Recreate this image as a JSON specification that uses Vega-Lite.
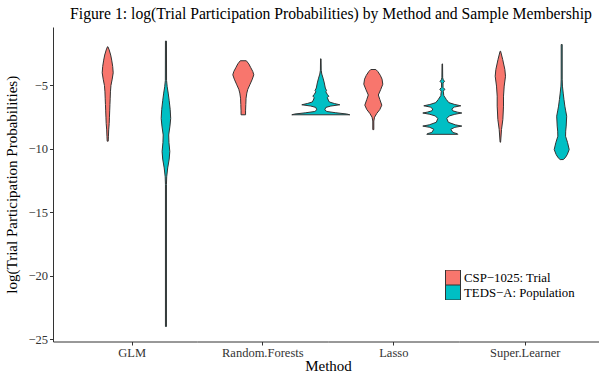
{
  "$schema": "https://vega.github.io/schema/vega-lite/v6.json",
  "padding": {"left": 4, "top": 6, "right": 0, "bottom": 0},
  "background": "white",
  "bounds": "flush",
  "title": {"text": "Figure 1: log(Trial Participation Probabilities) by Method and Sample Membership", "font": "Liberation Serif", "fontSize": 15.7, "fontWeight": "normal", "color": "#000000", "anchor": "middle", "offset": 4, "dx": 29},
  "data": {"values": [
    {"m":"GLM","g":"CSP−1025: Trial","v":-1.95,"w":0.05},{"m":"GLM","g":"CSP−1025: Trial","v":-2.2,"w":0.3},{"m":"GLM","g":"CSP−1025: Trial","v":-2.6,"w":0.6},{"m":"GLM","g":"CSP−1025: Trial","v":-3.0,"w":0.8},{"m":"GLM","g":"CSP−1025: Trial","v":-3.5,"w":1.0},{"m":"GLM","g":"CSP−1025: Trial","v":-4.0,"w":1.1},{"m":"GLM","g":"CSP−1025: Trial","v":-4.5,"w":0.9},{"m":"GLM","g":"CSP−1025: Trial","v":-5.0,"w":0.65},{"m":"GLM","g":"CSP−1025: Trial","v":-5.5,"w":0.55},{"m":"GLM","g":"CSP−1025: Trial","v":-6.0,"w":0.5},{"m":"GLM","g":"CSP−1025: Trial","v":-6.5,"w":0.45},{"m":"GLM","g":"CSP−1025: Trial","v":-7.0,"w":0.4},{"m":"GLM","g":"CSP−1025: Trial","v":-7.5,"w":0.35},{"m":"GLM","g":"CSP−1025: Trial","v":-8.0,"w":0.3},{"m":"GLM","g":"CSP−1025: Trial","v":-8.5,"w":0.2},{"m":"GLM","g":"CSP−1025: Trial","v":-9.0,"w":0.15},{"m":"GLM","g":"CSP−1025: Trial","v":-9.39,"w":0.1},
    {"m":"GLM","g":"TEDS−A: Population","v":-1.5,"w":0.1},{"m":"GLM","g":"TEDS−A: Population","v":-4.6,"w":0.12},{"m":"GLM","g":"TEDS−A: Population","v":-5.1,"w":0.25},{"m":"GLM","g":"TEDS−A: Population","v":-5.6,"w":0.45},{"m":"GLM","g":"TEDS−A: Population","v":-6.2,"w":0.65},{"m":"GLM","g":"TEDS−A: Population","v":-6.9,"w":0.85},{"m":"GLM","g":"TEDS−A: Population","v":-7.6,"w":0.95},{"m":"GLM","g":"TEDS−A: Population","v":-8.2,"w":0.8},{"m":"GLM","g":"TEDS−A: Population","v":-8.9,"w":0.55},{"m":"GLM","g":"TEDS−A: Population","v":-9.5,"w":0.6},{"m":"GLM","g":"TEDS−A: Population","v":-10.2,"w":0.77},{"m":"GLM","g":"TEDS−A: Population","v":-10.8,"w":0.65},{"m":"GLM","g":"TEDS−A: Population","v":-11.5,"w":0.35},{"m":"GLM","g":"TEDS−A: Population","v":-12.2,"w":0.15},{"m":"GLM","g":"TEDS−A: Population","v":-12.8,"w":0.1},{"m":"GLM","g":"TEDS−A: Population","v":-24.0,"w":0.1},
    {"m":"Random.Forests","g":"CSP−1025: Trial","v":-3.05,"w":0.6},{"m":"Random.Forests","g":"CSP−1025: Trial","v":-3.3,"w":1.1},{"m":"Random.Forests","g":"CSP−1025: Trial","v":-3.6,"w":1.5},{"m":"Random.Forests","g":"CSP−1025: Trial","v":-3.9,"w":1.9},{"m":"Random.Forests","g":"CSP−1025: Trial","v":-4.16,"w":2.1},{"m":"Random.Forests","g":"CSP−1025: Trial","v":-4.5,"w":1.8},{"m":"Random.Forests","g":"CSP−1025: Trial","v":-4.95,"w":1.3},{"m":"Random.Forests","g":"CSP−1025: Trial","v":-5.3,"w":0.9},{"m":"Random.Forests","g":"CSP−1025: Trial","v":-5.6,"w":0.7},{"m":"Random.Forests","g":"CSP−1025: Trial","v":-6.0,"w":0.55},{"m":"Random.Forests","g":"CSP−1025: Trial","v":-6.5,"w":0.5},{"m":"Random.Forests","g":"CSP−1025: Trial","v":-7.0,"w":0.45},{"m":"Random.Forests","g":"CSP−1025: Trial","v":-7.31,"w":0.45},
    {"m":"Random.Forests","g":"TEDS−A: Population","v":-2.9,"w":0.05},{"m":"Random.Forests","g":"TEDS−A: Population","v":-3.8,"w":0.08},{"m":"Random.Forests","g":"TEDS−A: Population","v":-4.1,"w":0.2},{"m":"Random.Forests","g":"TEDS−A: Population","v":-4.42,"w":0.45},{"m":"Random.Forests","g":"TEDS−A: Population","v":-4.8,"w":0.7},{"m":"Random.Forests","g":"TEDS−A: Population","v":-5.2,"w":0.9},{"m":"Random.Forests","g":"TEDS−A: Population","v":-5.4,"w":1.15},{"m":"Random.Forests","g":"TEDS−A: Population","v":-5.5,"w":1.0},{"m":"Random.Forests","g":"TEDS−A: Population","v":-5.7,"w":1.3},{"m":"Random.Forests","g":"TEDS−A: Population","v":-5.85,"w":1.6},{"m":"Random.Forests","g":"TEDS−A: Population","v":-5.95,"w":1.3},{"m":"Random.Forests","g":"TEDS−A: Population","v":-6.15,"w":1.5},{"m":"Random.Forests","g":"TEDS−A: Population","v":-6.3,"w":1.7},{"m":"Random.Forests","g":"TEDS−A: Population","v":-6.42,"w":2.7},{"m":"Random.Forests","g":"TEDS−A: Population","v":-6.52,"w":3.8},{"m":"Random.Forests","g":"TEDS−A: Population","v":-6.62,"w":2.0},{"m":"Random.Forests","g":"TEDS−A: Population","v":-6.73,"w":1.0},{"m":"Random.Forests","g":"TEDS−A: Population","v":-6.92,"w":0.8},{"m":"Random.Forests","g":"TEDS−A: Population","v":-7.05,"w":1.2},{"m":"Random.Forests","g":"TEDS−A: Population","v":-7.15,"w":3.0},{"m":"Random.Forests","g":"TEDS−A: Population","v":-7.25,"w":5.2},{"m":"Random.Forests","g":"TEDS−A: Population","v":-7.31,"w":5.8},
    {"m":"Lasso","g":"CSP−1025: Trial","v":-3.74,"w":0.5},{"m":"Lasso","g":"CSP−1025: Trial","v":-3.9,"w":0.9},{"m":"Lasso","g":"CSP−1025: Trial","v":-4.2,"w":1.4},{"m":"Lasso","g":"CSP−1025: Trial","v":-4.5,"w":1.75},{"m":"Lasso","g":"CSP−1025: Trial","v":-4.9,"w":1.9},{"m":"Lasso","g":"CSP−1025: Trial","v":-5.3,"w":1.5},{"m":"Lasso","g":"CSP−1025: Trial","v":-5.75,"w":1.0},{"m":"Lasso","g":"CSP−1025: Trial","v":-6.1,"w":1.3},{"m":"Lasso","g":"CSP−1025: Trial","v":-6.55,"w":1.7},{"m":"Lasso","g":"CSP−1025: Trial","v":-6.9,"w":1.3},{"m":"Lasso","g":"CSP−1025: Trial","v":-7.2,"w":0.7},{"m":"Lasso","g":"CSP−1025: Trial","v":-7.5,"w":0.25},{"m":"Lasso","g":"CSP−1025: Trial","v":-7.8,"w":0.1},{"m":"Lasso","g":"CSP−1025: Trial","v":-8.48,"w":0.1},
    {"m":"Lasso","g":"TEDS−A: Population","v":-3.3,"w":0.05},{"m":"Lasso","g":"TEDS−A: Population","v":-4.4,"w":0.08},{"m":"Lasso","g":"TEDS−A: Population","v":-4.55,"w":0.2},{"m":"Lasso","g":"TEDS−A: Population","v":-4.68,"w":0.45},{"m":"Lasso","g":"TEDS−A: Population","v":-4.8,"w":0.15},{"m":"Lasso","g":"TEDS−A: Population","v":-5.15,"w":0.15},{"m":"Lasso","g":"TEDS−A: Population","v":-5.3,"w":0.5},{"m":"Lasso","g":"TEDS−A: Population","v":-5.45,"w":0.2},{"m":"Lasso","g":"TEDS−A: Population","v":-5.8,"w":0.3},{"m":"Lasso","g":"TEDS−A: Population","v":-6.1,"w":0.8},{"m":"Lasso","g":"TEDS−A: Population","v":-6.35,"w":1.3},{"m":"Lasso","g":"TEDS−A: Population","v":-6.5,"w":2.5},{"m":"Lasso","g":"TEDS−A: Population","v":-6.6,"w":3.7},{"m":"Lasso","g":"TEDS−A: Population","v":-6.7,"w":2.4},{"m":"Lasso","g":"TEDS−A: Population","v":-6.85,"w":1.9},{"m":"Lasso","g":"TEDS−A: Population","v":-7.0,"w":2.1},{"m":"Lasso","g":"TEDS−A: Population","v":-7.1,"w":3.0},{"m":"Lasso","g":"TEDS−A: Population","v":-7.17,"w":3.9},{"m":"Lasso","g":"TEDS−A: Population","v":-7.27,"w":2.5},{"m":"Lasso","g":"TEDS−A: Population","v":-7.4,"w":1.4},{"m":"Lasso","g":"TEDS−A: Population","v":-7.6,"w":0.9},{"m":"Lasso","g":"TEDS−A: Population","v":-7.9,"w":1.2},{"m":"Lasso","g":"TEDS−A: Population","v":-8.1,"w":2.6},{"m":"Lasso","g":"TEDS−A: Population","v":-8.2,"w":3.9},{"m":"Lasso","g":"TEDS−A: Population","v":-8.3,"w":2.5},{"m":"Lasso","g":"TEDS−A: Population","v":-8.45,"w":1.7},{"m":"Lasso","g":"TEDS−A: Population","v":-8.7,"w":2.1},{"m":"Lasso","g":"TEDS−A: Population","v":-8.8,"w":3.0},{"m":"Lasso","g":"TEDS−A: Population","v":-8.85,"w":3.1},
    {"m":"Super.Learner","g":"CSP−1025: Trial","v":-2.3,"w":0.05},{"m":"Super.Learner","g":"CSP−1025: Trial","v":-2.95,"w":0.47},{"m":"Super.Learner","g":"CSP−1025: Trial","v":-3.74,"w":0.9},{"m":"Super.Learner","g":"CSP−1025: Trial","v":-4.27,"w":1.03},{"m":"Super.Learner","g":"CSP−1025: Trial","v":-5.05,"w":0.77},{"m":"Super.Learner","g":"CSP−1025: Trial","v":-5.84,"w":0.63},{"m":"Super.Learner","g":"CSP−1025: Trial","v":-6.63,"w":0.63},{"m":"Super.Learner","g":"CSP−1025: Trial","v":-7.68,"w":0.5},{"m":"Super.Learner","g":"CSP−1025: Trial","v":-8.47,"w":0.23},{"m":"Super.Learner","g":"CSP−1025: Trial","v":-9.47,"w":0.05},
    {"m":"Super.Learner","g":"TEDS−A: Population","v":-1.77,"w":0.1},{"m":"Super.Learner","g":"TEDS−A: Population","v":-4.5,"w":0.1},{"m":"Super.Learner","g":"TEDS−A: Population","v":-5.05,"w":0.15},{"m":"Super.Learner","g":"TEDS−A: Population","v":-5.6,"w":0.3},{"m":"Super.Learner","g":"TEDS−A: Population","v":-6.1,"w":0.45},{"m":"Super.Learner","g":"TEDS−A: Population","v":-6.63,"w":0.63},{"m":"Super.Learner","g":"TEDS−A: Population","v":-7.0,"w":0.8},{"m":"Super.Learner","g":"TEDS−A: Population","v":-7.42,"w":1.0},{"m":"Super.Learner","g":"TEDS−A: Population","v":-7.8,"w":0.95},{"m":"Super.Learner","g":"TEDS−A: Population","v":-8.2,"w":0.9},{"m":"Super.Learner","g":"TEDS−A: Population","v":-8.6,"w":0.8},{"m":"Super.Learner","g":"TEDS−A: Population","v":-9.0,"w":0.77},{"m":"Super.Learner","g":"TEDS−A: Population","v":-9.5,"w":1.17},{"m":"Super.Learner","g":"TEDS−A: Population","v":-10.05,"w":1.5},{"m":"Super.Learner","g":"TEDS−A: Population","v":-10.45,"w":1.1},{"m":"Super.Learner","g":"TEDS−A: Population","v":-10.7,"w":0.7},{"m":"Super.Learner","g":"TEDS−A: Population","v":-10.84,"w":0.3}
  ]},
  "spacing": 0,
  "hconcat": [
    {
      "width": 144, "height": 314.5,
      "transform": [{"filter": {"field": "m", "equal": "GLM"}}],
      "layer": [
        {"transform": [{"filter": {"field": "g", "equal": "CSP−1025: Trial"}}],
         "mark": {"type": "area", "orient": "horizontal", "stroke": "#333333", "strokeWidth": 1, "strokeJoin": "round", "opacity": 1},
         "encoding": {
           "y": {"field": "v", "type": "quantitative", "scale": {"domain": [-25.18, -0.39], "nice": false, "zero": false}, "axis": {"values": [-25, -20, -15, -10, -5], "title": "log(Trial Participation Probabilities)", "titlePadding": 8, "labelPadding": 2}},
           "x": {"field": "w", "type": "quantitative", "stack": "center", "scale": {"domain": [-4.92, 9.48], "nice": false, "zero": false}, "axis": {"values": [2.95], "labelExpr": "'GLM'", "title": null}},
           "color": {"field": "g", "type": "nominal", "scale": {"domain": ["CSP−1025: Trial", "TEDS−A: Population"], "range": ["#F8766D", "#00BFC4"]}, "legend": {"orient": "none", "legendX": 392, "legendY": 243, "title": null, "rowPadding": 0, "clipHeight": 15}}
         }},
        {"transform": [{"filter": {"field": "g", "equal": "TEDS−A: Population"}}],
         "mark": {"type": "area", "orient": "horizontal", "stroke": "#333333", "strokeWidth": 1, "strokeJoin": "round", "opacity": 1},
         "encoding": {
           "y": {"field": "v", "type": "quantitative", "scale": {"domain": [-25.18, -0.39], "nice": false, "zero": false}},
           "x": {"field": "w", "type": "quantitative", "stack": "center", "scale": {"domain": [-10.82, 3.58], "nice": false, "zero": false}, "axis": null},
           "color": {"field": "g", "type": "nominal", "scale": {"domain": ["CSP−1025: Trial", "TEDS−A: Population"], "range": ["#F8766D", "#00BFC4"]}, "legend": {"orient": "none", "legendX": 392, "legendY": 243, "title": null, "rowPadding": 0, "clipHeight": 15}}
         }}
      ],
      "resolve": {"scale": {"x": "independent"}}
    },
    {
      "width": 131, "height": 314.5,
      "transform": [{"filter": {"field": "m", "equal": "Random.Forests"}}],
      "layer": [
        {"transform": [{"filter": {"field": "g", "equal": "CSP−1025: Trial"}}],
         "mark": {"type": "area", "orient": "horizontal", "stroke": "#333333", "strokeWidth": 1, "strokeJoin": "round", "opacity": 1},
         "encoding": {
           "y": {"field": "v", "type": "quantitative", "scale": {"domain": [-25.18, -0.39], "nice": false, "zero": false}, "axis": null},
           "x": {"field": "w", "type": "quantitative", "stack": "center", "scale": {"domain": [-3.58, 9.52], "nice": false, "zero": false}, "axis": {"values": [2.95], "labelExpr": "'Random.Forests'", "title": "Method", "titleX": 131, "titleAlign": "center"}},
           "color": {"field": "g", "type": "nominal", "scale": {"domain": ["CSP−1025: Trial", "TEDS−A: Population"], "range": ["#F8766D", "#00BFC4"]}, "legend": {"orient": "none", "legendX": 392, "legendY": 243, "title": null, "rowPadding": 0, "clipHeight": 15}}
         }},
        {"transform": [{"filter": {"field": "g", "equal": "TEDS−A: Population"}}],
         "mark": {"type": "area", "orient": "horizontal", "stroke": "#333333", "strokeWidth": 1, "strokeJoin": "round", "opacity": 1},
         "encoding": {
           "y": {"field": "v", "type": "quantitative", "scale": {"domain": [-25.18, -0.39], "nice": false, "zero": false}, "axis": null},
           "x": {"field": "w", "type": "quantitative", "stack": "center", "scale": {"domain": [-9.48, 3.62], "nice": false, "zero": false}, "axis": null},
           "color": {"field": "g", "type": "nominal", "scale": {"domain": ["CSP−1025: Trial", "TEDS−A: Population"], "range": ["#F8766D", "#00BFC4"]}, "legend": {"orient": "none", "legendX": 392, "legendY": 243, "title": null, "rowPadding": 0, "clipHeight": 15}}
         }}
      ],
      "resolve": {"scale": {"x": "independent"}}
    },
    {
      "width": 131, "height": 314.5,
      "transform": [{"filter": {"field": "m", "equal": "Lasso"}}],
      "layer": [
        {"transform": [{"filter": {"field": "g", "equal": "CSP−1025: Trial"}}],
         "mark": {"type": "area", "orient": "horizontal", "stroke": "#333333", "strokeWidth": 1, "strokeJoin": "round", "opacity": 1},
         "encoding": {
           "y": {"field": "v", "type": "quantitative", "scale": {"domain": [-25.18, -0.39], "nice": false, "zero": false}, "axis": null},
           "x": {"field": "w", "type": "quantitative", "stack": "center", "scale": {"domain": [-3.58, 9.52], "nice": false, "zero": false}, "axis": {"values": [2.95], "labelExpr": "'Lasso'", "title": null}},
           "color": {"field": "g", "type": "nominal", "scale": {"domain": ["CSP−1025: Trial", "TEDS−A: Population"], "range": ["#F8766D", "#00BFC4"]}, "legend": {"orient": "none", "legendX": 392, "legendY": 243, "title": null, "rowPadding": 0, "clipHeight": 15}}
         }},
        {"transform": [{"filter": {"field": "g", "equal": "TEDS−A: Population"}}],
         "mark": {"type": "area", "orient": "horizontal", "stroke": "#333333", "strokeWidth": 1, "strokeJoin": "round", "opacity": 1},
         "encoding": {
           "y": {"field": "v", "type": "quantitative", "scale": {"domain": [-25.18, -0.39], "nice": false, "zero": false}, "axis": null},
           "x": {"field": "w", "type": "quantitative", "stack": "center", "scale": {"domain": [-9.48, 3.62], "nice": false, "zero": false}, "axis": null},
           "color": {"field": "g", "type": "nominal", "scale": {"domain": ["CSP−1025: Trial", "TEDS−A: Population"], "range": ["#F8766D", "#00BFC4"]}, "legend": {"orient": "none", "legendX": 392, "legendY": 243, "title": null, "rowPadding": 0, "clipHeight": 15}}
         }}
      ],
      "resolve": {"scale": {"x": "independent"}}
    },
    {
      "width": 140, "height": 314.5,
      "transform": [{"filter": {"field": "m", "equal": "Super.Learner"}}],
      "layer": [
        {"transform": [{"filter": {"field": "g", "equal": "CSP−1025: Trial"}}],
         "mark": {"type": "area", "orient": "horizontal", "stroke": "#333333", "strokeWidth": 1, "strokeJoin": "round", "opacity": 1},
         "encoding": {
           "y": {"field": "v", "type": "quantitative", "scale": {"domain": [-25.18, -0.39], "nice": false, "zero": false}, "axis": null},
           "x": {"field": "w", "type": "quantitative", "stack": "center", "scale": {"domain": [-3.62, 10.38], "nice": false, "zero": false}, "axis": {"values": [2.95], "labelExpr": "'Super.Learner'", "title": null}},
           "color": {"field": "g", "type": "nominal", "scale": {"domain": ["CSP−1025: Trial", "TEDS−A: Population"], "range": ["#F8766D", "#00BFC4"]}, "legend": {"orient": "none", "legendX": 392, "legendY": 243, "title": null, "rowPadding": 0, "clipHeight": 15}}
         }},
        {"transform": [{"filter": {"field": "g", "equal": "TEDS−A: Population"}}],
         "mark": {"type": "area", "orient": "horizontal", "stroke": "#333333", "strokeWidth": 1, "strokeJoin": "round", "opacity": 1},
         "encoding": {
           "y": {"field": "v", "type": "quantitative", "scale": {"domain": [-25.18, -0.39], "nice": false, "zero": false}, "axis": null},
           "x": {"field": "w", "type": "quantitative", "stack": "center", "scale": {"domain": [-9.52, 4.48], "nice": false, "zero": false}, "axis": null},
           "color": {"field": "g", "type": "nominal", "scale": {"domain": ["CSP−1025: Trial", "TEDS−A: Population"], "range": ["#F8766D", "#00BFC4"]}, "legend": {"orient": "none", "legendX": 392, "legendY": 243, "title": null, "rowPadding": 0, "clipHeight": 15}}
         }}
      ],
      "resolve": {"scale": {"x": "independent"}}
    }
  ],
  "config": {
    "font": "Liberation Serif",
    "view": {"stroke": null},
    "axis": {"grid": false, "domainColor": "#333333", "tickColor": "#333333", "labelColor": "#333333", "labelFont": "Liberation Serif", "titleFont": "Liberation Serif", "labelFontSize": 12.5, "titleFontSize": 15, "titleFontWeight": "normal", "titleColor": "#000000", "tickSize": 3.5, "labelPadding": 1, "titlePadding": 0, "domainWidth": 1, "tickWidth": 1, "labelFlush": false},
    "legend": {"symbolType": "square", "symbolSize": 225, "symbolStrokeColor": "#333333", "symbolStrokeWidth": 1, "symbolOpacity": 1, "labelFont": "Liberation Serif", "labelFontSize": 12.8, "labelColor": "#000000", "rowPadding": 0, "labelOffset": 3}
  }
}
